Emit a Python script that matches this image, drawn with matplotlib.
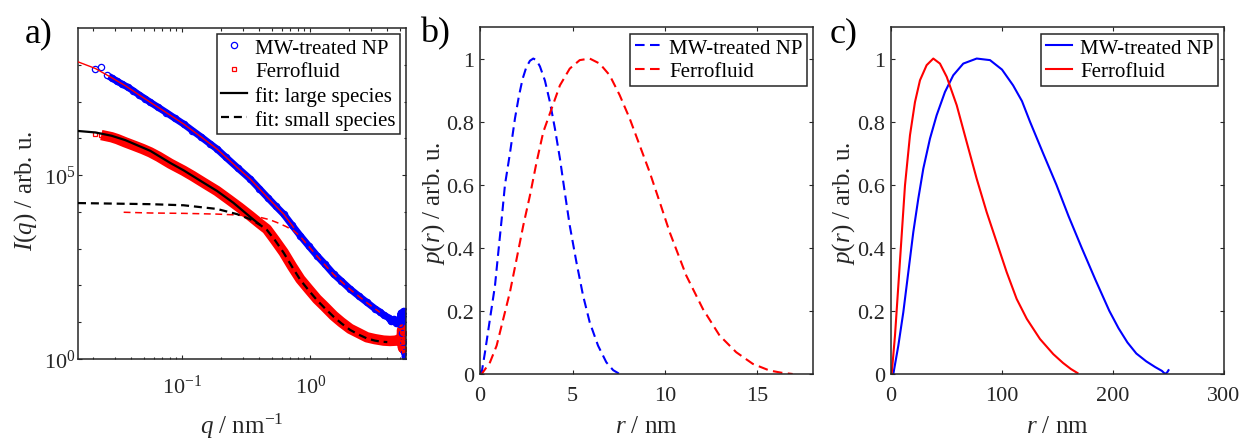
import numpy as np
import matplotlib
matplotlib.use('Agg')
import matplotlib.pyplot as plt
from matplotlib.ticker import FixedLocator, FixedFormatter, NullFormatter

plt.rcParams['font.family'] = ['Liberation Serif', 'DejaVu Serif']
plt.rcParams['mathtext.fontset'] = 'custom'
plt.rcParams['mathtext.rm'] = 'Liberation Serif'
plt.rcParams['mathtext.it'] = 'Liberation Serif:italic'
plt.rcParams['mathtext.bf'] = 'Liberation Serif:bold'

AX = '#262626'

# ---------------- panel a: scattering curves (log10 of intensity) ----------------
q_mw = [0.0209, 0.0233, 0.0256, 0.0281, 0.031, 0.034, 0.0375, 0.0415, 0.046, 0.051,
        0.0562, 0.065, 0.075, 0.087, 0.1023, 0.12, 0.14, 0.165, 0.1866, 0.22, 0.27,
        0.34, 0.40, 0.47, 0.54, 0.619, 0.72, 0.836, 0.97, 1.128, 1.30, 1.52, 1.75,
        2.05, 2.4, 2.77, 3.2, 3.5, 3.74, 4.1, 4.3, 4.48, 4.7, 4.9, 5.05, 5.12, 5.18,
        5.24, 5.3, 5.36, 5.42, 5.48, 5.52]
logI_mw = [7.88, 7.93, 7.72, 7.64, 7.55, 7.47, 7.39, 7.29, 7.18, 7.08,
           6.98, 6.84, 6.70, 6.55, 6.39, 6.21, 6.04, 5.85, 5.71, 5.48, 5.20,
           4.89, 4.63, 4.37, 4.15, 3.94, 3.64, 3.35, 3.08, 2.81, 2.58, 2.31, 2.12,
           1.90, 1.71, 1.54, 1.37, 1.28, 1.20, 1.12, 1.02, 1.08, 0.98, 1.05, 0.95, 1.25,
           0.70, 1.15, 0.45, 1.30, 0.20, 1.10, 0.09]

q_ff = [0.0209, 0.0230, 0.0255, 0.0280, 0.031, 0.0359, 0.042, 0.049, 0.0562, 0.0653,
        0.0806, 0.1023, 0.12, 0.147, 0.1866, 0.23, 0.28, 0.34, 0.40, 0.458, 0.53,
        0.619, 0.72, 0.836, 0.97, 1.128, 1.30, 1.52, 1.75, 2.05, 2.4, 2.77, 3.2,
        3.74, 4.2, 4.74, 5.05, 5.15, 5.22, 5.3, 5.38, 5.45, 5.52]
logI_ff = [6.13, 6.10, 6.06, 6.03, 5.98, 5.89, 5.80, 5.71, 5.62, 5.50,
           5.31, 5.12, 4.98, 4.79, 4.57, 4.34, 4.12, 3.89, 3.69, 3.53, 3.23,
           2.90, 2.52, 2.17, 1.90, 1.63, 1.42, 1.18, 1.00, 0.82, 0.70, 0.59, 0.54,
           0.50, 0.49, 0.50, 0.55, 0.45, 0.80, 0.30, 0.70, 0.27, 0.60]

# fits for MW-treated NP (red)
q_fit_mw_large = [0.0153, 0.0209, 0.028, 0.0359, 0.046, 0.0562, 0.075, 0.1023, 0.14,
                  0.1866, 0.27, 0.34, 0.47, 0.619, 0.74]
logI_fit_mw_large = [8.08, 7.90, 7.65, 7.43, 7.18, 6.98, 6.70, 6.39, 6.04,
                     5.71, 5.20, 4.89, 4.37, 3.94, 3.58]
q_fit_mw_small = [0.0348, 0.0562, 0.1023, 0.1866, 0.252, 0.33, 0.407, 0.48, 0.55,
                  0.64, 0.741, 0.836, 1.128, 1.52, 2.05, 2.77, 3.5]
logI_fit_mw_small = [3.99, 3.97, 3.96, 3.94, 3.92, 3.89, 3.85, 3.79, 3.71,
                     3.61, 3.49, 3.33, 2.80, 2.30, 1.89, 1.53, 1.27]

# fits for Ferrofluid (black)
q_fit_ff_large = [0.0153, 0.0209, 0.028, 0.0359, 0.0562, 0.0806, 0.1023, 0.147,
                  0.1866, 0.25, 0.34, 0.40]
logI_fit_ff_large = [6.20, 6.16, 6.07, 5.95, 5.66, 5.33, 5.13, 4.79,
                     4.57, 4.25, 3.86, 3.66]
q_fit_ff_small = [0.0153, 0.0562, 0.1023, 0.1866, 0.267, 0.34, 0.40, 0.458, 0.53,
                  0.619, 0.72, 0.836, 0.97, 1.128, 1.30, 1.52, 1.75, 2.05, 2.4,
                  2.77, 3.2, 3.6, 4.0]
logI_fit_ff_small = [4.24, 4.21, 4.18, 4.08, 3.94, 3.80, 3.66, 3.51, 3.23,
                     2.89, 2.51, 2.15, 1.87, 1.60, 1.38, 1.15, 0.97, 0.79, 0.66,
                     0.56, 0.50, 0.47, 0.46]

# ---------------- panel b: p(r), small species ----------------
r_b_mw = [0.0, 0.09, 0.27, 0.54, 0.81, 0.99, 1.17, 1.35, 1.62, 1.89, 2.1, 2.3, 2.5, 2.7,
          2.88, 3.05, 3.24, 3.51, 3.78, 4.05, 4.32, 4.58, 4.85, 5.21, 5.57, 5.93, 6.38,
          6.83, 7.2, 7.55]
p_b_mw = [0.0, 0.005, 0.069, 0.175, 0.28, 0.386, 0.49, 0.60, 0.70, 0.81, 0.88, 0.935,
          0.972, 0.993, 1.0, 0.995, 0.975, 0.93, 0.862, 0.778, 0.683, 0.577, 0.471, 0.355,
          0.249, 0.164, 0.09, 0.037, 0.012, 0.0]
r_b_ff = [0.0, 0.09, 0.54, 0.90, 1.26, 1.62, 1.98, 2.34, 2.70, 3.06, 3.42, 3.87, 4.32,
          4.85, 5.39, 5.93, 6.47, 7.01, 7.55, 8.09, 8.63, 9.17, 9.80, 10.25, 11.15,
          12.05, 12.95, 13.85, 14.75, 15.65, 16.3, 16.9]
p_b_ff = [0.0, 0.0, 0.037, 0.09, 0.175, 0.26, 0.365, 0.471, 0.566, 0.672, 0.767, 0.841,
          0.915, 0.968, 0.995, 1.0, 0.984, 0.947, 0.884, 0.81, 0.725, 0.64, 0.53, 0.45,
          0.312, 0.206, 0.122, 0.069, 0.032, 0.011, 0.004, 0.0]

# ---------------- panel c: p(r), large species ----------------
r_c_mw = [2.1, 6.6, 11.1, 15.6, 20.1, 24.6, 29.1, 35.1, 41.1, 48.6, 56.1, 65.1, 77.2,
          89.2, 100, 110, 118, 125.2, 137, 149, 160, 171.8, 184, 196.7, 205, 213, 221,
          230, 238, 244, 247, 249, 250]
p_c_mw = [0.0, 0.09, 0.196, 0.323, 0.45, 0.556, 0.651, 0.746, 0.82, 0.894, 0.947,
          0.984, 1.0, 0.995, 0.965, 0.915, 0.865, 0.8, 0.7, 0.6, 0.5, 0.4, 0.3, 0.2,
          0.145, 0.1, 0.065, 0.04, 0.022, 0.01, 0.0, 0.006, 0.012]
r_c_ff = [0.6, 3.6, 6.6, 9.6, 12.6, 17.1, 21.6, 26.1, 32.1, 38.1, 44.1, 50.2, 59.2,
          68.2, 77.2, 86.2, 95.2, 104.2, 113.2, 122.3, 134.2, 146.2, 155, 162, 168]
p_c_ff = [0.0, 0.122, 0.28, 0.439, 0.598, 0.757, 0.862, 0.931, 0.979, 1.0, 0.984,
          0.942, 0.852, 0.735, 0.619, 0.513, 0.418, 0.323, 0.238, 0.175, 0.111,
          0.063, 0.035, 0.016, 0.003]

W, H = 1243, 439
fig = plt.figure(figsize=(W / 100, H / 100), dpi=100)


def style_axes(ax):
    for s in ax.spines.values():
        s.set_color(AX)
        s.set_linewidth(1.1)
    ax.tick_params(which='both', direction='in', top=True, right=True,
                   color=AX, labelcolor=AX, labelsize=16, width=0.8)
    ax.tick_params(which='major', length=3.0)
    ax.tick_params(which='minor', length=1.8)


def make_legend(ax, x, y):
    leg = ax.legend(loc='upper right', bbox_to_anchor=(x, y), borderaxespad=0,
                    fontsize=15, frameon=True, fancybox=False, framealpha=1,
                    edgecolor=AX, borderpad=0.2, handlelength=1.25,
                    handletextpad=0.4, labelspacing=0.2, numpoints=1)
    leg.get_frame().set_linewidth(1.1)
    return leg


# ---------------- panel a ----------------
axa = fig.add_axes([78 / W, 1 - 360 / H, 328 / W, 331 / H])
Imw = 10 ** np.array(logI_mw)
Iff = 10 ** np.array(logI_ff)
# dense parts of the measured curves appear as continuous bands
axa.plot(q_mw[3:], Imw[3:], '-', color='b', lw=5, solid_joinstyle='round', zorder=1)
axa.plot(q_mw, Imw, 'o', mfc='none', mec='b', ms=4.5, mew=0.9, zorder=2,
         label='MW-treated NP')
axa.plot(q_ff[2:], Iff[2:], '-', color='r', lw=7.5, solid_joinstyle='round', zorder=1)
axa.plot(q_ff, Iff, 's', mfc='none', mec='r', ms=3.2, mew=0.9, zorder=2,
         label='Ferrofluid')
axa.plot(q_fit_mw_large, 10 ** np.array(logI_fit_mw_large), '-', color='r', lw=1.0, zorder=3)
axa.plot(q_fit_mw_small, 10 ** np.array(logI_fit_mw_small), '--', color='r', lw=1.1,
         dashes=(4.5, 3.0), zorder=3)
axa.plot(q_fit_ff_large, 10 ** np.array(logI_fit_ff_large), '-', color='k', lw=1.6, zorder=4,
         label='fit: large species')
axa.plot(q_fit_ff_small, 10 ** np.array(logI_fit_ff_small), '--', color='k', lw=1.6,
         dashes=(3.6, 2.2), zorder=4, label='fit: small species')
axa.set_xscale('log')
axa.set_yscale('log')
axa.set_xlim(0.0153, 5.6)
axa.set_ylim(1, 1e9)
style_axes(axa)
axa.xaxis.set_major_locator(FixedLocator([0.1, 1.0]))
axa.xaxis.set_major_formatter(FixedFormatter([r'$10^{-1}$', r'$10^{0}$']))
minx = [m * 10.0 ** e for e in (-2, -1, 0) for m in range(2, 10)]
axa.xaxis.set_minor_locator(FixedLocator(minx))
axa.xaxis.set_minor_formatter(NullFormatter())
axa.yaxis.set_major_locator(FixedLocator([1.0, 1e5]))
axa.yaxis.set_major_formatter(FixedFormatter([r'$10^{0}$', r'$10^{5}$']))
axa.yaxis.set_minor_locator(FixedLocator([10.0 ** k for k in (1, 2, 3, 4, 6, 7, 8)]))
axa.yaxis.set_minor_formatter(NullFormatter())
axa.tick_params(axis='x', which='major', pad=11)
axa.tick_params(axis='y', which='major', pad=2)
axa.set_xlabel(r'$\mathit{q}$ / nm$^{-1}$', fontsize=18, color=AX, va='baseline')
axa.xaxis.set_label_coords(0.5, (360 - 434) / 331)
axa.set_ylabel(r'$\mathit{I(q)}$ / arb. u.', fontsize=18, color=AX, va='baseline')
axa.yaxis.set_label_coords((32 - 78) / 328, 0.51)
make_legend(axa, 0.982, 0.982)

# ---------------- panel b ----------------
axb = fig.add_axes([480 / W, 1 - 375 / H, 333 / W, 347 / H])
axb.plot(r_b_mw, p_b_mw, '--', color='b', lw=1.5, dashes=(4.6, 2.6), label='MW-treated NP')
axb.plot(r_b_ff, p_b_ff, '--', color='r', lw=1.5, dashes=(4.6, 2.6), label='Ferrofluid')
axb.set_xlim(0, 18)
axb.set_ylim(0, 1.1)
style_axes(axb)
axb.set_xticks([0, 5, 10, 15])
axb.set_yticks([0, 0.2, 0.4, 0.6, 0.8, 1.0])
axb.set_yticklabels(['0', '0.2', '0.4', '0.6', '0.8', '1'])
axb.tick_params(axis='x', pad=9)
axb.tick_params(axis='y', pad=4)
axb.set_xlabel(r'$\mathit{r}$ / nm', fontsize=18, color=AX, va='baseline')
axb.xaxis.set_label_coords(0.5, (375 - 433.5) / 347)
axb.set_ylabel(r'$\mathit{p(r)}$ / arb. u.', fontsize=18, color=AX, va='baseline')
axb.yaxis.set_label_coords((440 - 480) / 333, 0.494)
make_legend(axb, 0.981, 0.980)

# ---------------- panel c ----------------
axc = fig.add_axes([891 / W, 1 - 375 / H, 333 / W, 347 / H])
axc.plot(r_c_mw, p_c_mw, '-', color='b', lw=1.5, label='MW-treated NP')
axc.plot(r_c_ff, p_c_ff, '-', color='r', lw=1.5, label='Ferrofluid')
axc.set_xlim(0, 300)
axc.set_ylim(0, 1.1)
style_axes(axc)
axc.set_xticks([0, 100, 200, 300])
axc.set_yticks([0, 0.2, 0.4, 0.6, 0.8, 1.0])
axc.set_yticklabels(['0', '0.2', '0.4', '0.6', '0.8', '1'])
axc.tick_params(axis='x', pad=9)
axc.tick_params(axis='y', pad=4)
axc.set_xlabel(r'$\mathit{r}$ / nm', fontsize=18, color=AX, va='baseline')
axc.xaxis.set_label_coords(0.5, (375 - 433.5) / 347)
axc.set_ylabel(r'$\mathit{p(r)}$ / arb. u.', fontsize=18, color=AX, va='baseline')
axc.yaxis.set_label_coords((850 - 891) / 333, 0.494)
make_legend(axc, 0.981, 0.980)

# panel letters
fig.text(25 / W, 1 - 42 / H, 'a)', fontsize=26, va='baseline', ha='left')
fig.text(420 / W, 1 - 42 / H, 'b)', fontsize=26, va='baseline', ha='left')
fig.text(830 / W, 1 - 42 / H, 'c)', fontsize=26, va='baseline', ha='left')

fig.savefig('out.png', dpi=100)
